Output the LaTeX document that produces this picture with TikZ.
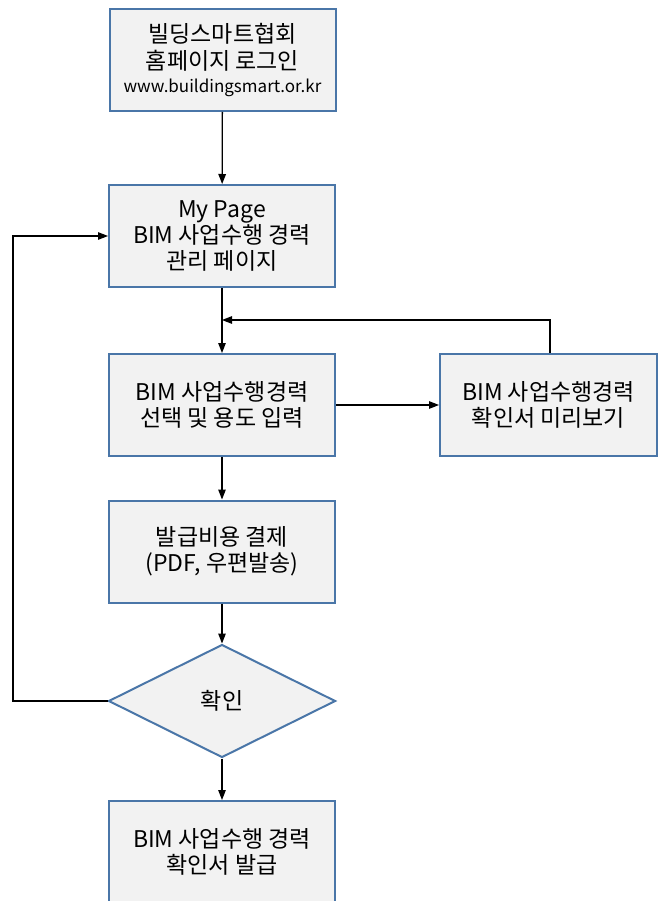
\documentclass[tikz,border=0pt]{standalone}
\usepackage{fontspec}
\setmainfont{Noto Sans CJK KR}
\usetikzlibrary{shapes.geometric,arrows.meta}
\definecolor{boxblue}{HTML}{4A76A8}
\definecolor{boxfill}{HTML}{F2F2F2}
\tikzset{
  flowbox/.style={draw=boxblue, fill=boxfill, line width=2pt, minimum width=226pt, minimum height=102pt, inner sep=0pt, align=center, font=\fontsize{23}{26}\selectfont},
  decision/.style={diamond, draw=boxblue, fill=boxfill, line width=2pt, minimum width=227pt, minimum height=113pt, inner sep=0pt, align=center, font=\fontsize{23}{26}\selectfont},
  conn/.style={line width=1.3pt, -{Triangle[length=10pt,width=7.5pt]}}
}
\begin{document}
\begin{tikzpicture}[x=1pt,y=-1pt]
\useasboundingbox (0,0) rectangle (658,901);
\node[flowbox] (login) at (222.5,60) {빌딩스마트협회\\[1pt]홈페이지 로그인\\[-3pt]{\fontsize{17}{21}\selectfont www.buildingsmart.or.kr}};
\node[flowbox] (mypage) at (222,236) {My Page\\BIM 사업수행 경력\\관리 페이지};
\node[flowbox] (select) at (222,405) {BIM 사업수행경력\\선택 및 용도 입력};
\node[flowbox, minimum width=217pt] (preview) at (548.5,405) {BIM 사업수행경력\\확인서 미리보기};
\node[flowbox] (pay) at (222,551.5) {발급비용 결제\\(PDF, 우편발송)};
\node[decision] (check) at (222,701) {확인};
\node[flowbox] (issue) at (222,852) {BIM 사업수행 경력\\확인서 발급};
\coordinate (merge) at (222,320);
\coordinate (loopL) at (13,701);
\coordinate (loopT) at (13,236);
\coordinate (pvTop) at (550,320);
\draw[conn] (login) -- (mypage);
\draw[conn] (mypage) -- (select);
\draw[conn] (select) -- (preview);
\draw[conn] (preview.north -| pvTop) -- (pvTop) -- (merge);
\draw[conn] (select) -- (pay);
\draw[conn] (pay) -- (check);
\draw[conn] (check) -- (issue);
\draw[conn] (check.west) -- (loopL) -- (loopT) -- (mypage.west);
\end{tikzpicture}
\end{document}
